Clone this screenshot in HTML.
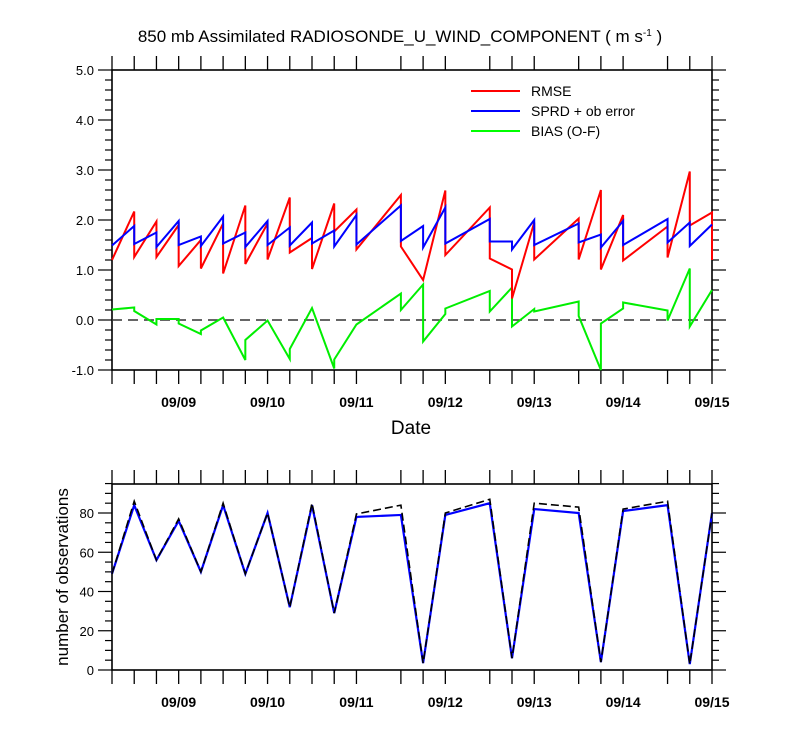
<!DOCTYPE html>
<html><head><meta charset="utf-8"><style>
html,body{margin:0;padding:0;background:#fff;}
svg{display:block;font-family:"Liberation Sans",sans-serif;}
</style></head><body>
<svg id="c" width="800" height="750" xmlns="http://www.w3.org/2000/svg">
<text x="400" y="42" text-anchor="middle" font-size="17">850 mb Assimilated RADIOSONDE_U_WIND_COMPONENT ( m s<tspan dy="-6" font-size="10">-1</tspan><tspan dy="6"> )</tspan></text>
<g id="topPanel"></g>
<g id="botPanel"></g>
<text x="411" y="434" text-anchor="middle" font-size="19">Date</text>
<text transform="translate(68,577) rotate(-90)" text-anchor="middle" font-size="17">number of observations</text>
<g>
<line x1="471" y1="91" x2="520" y2="91" stroke="#ff0000" stroke-width="2"/>
<text x="531" y="96" font-size="14">RMSE</text>
<line x1="471" y1="111" x2="520" y2="111" stroke="#0000ff" stroke-width="2"/>
<text x="531" y="116" font-size="14">SPRD + ob error</text>
<line x1="471" y1="131" x2="520" y2="131" stroke="#00ff00" stroke-width="2"/>
<text x="531" y="136" font-size="14">BIAS (O-F)</text>
</g>
</svg>
<script>
// time index in 6-hour steps from 09/08 06Z
const times = [0,1,2,3,4,5,6,7,8,9,10,11,13,14,15,17,18,19,21,22,23,25,26,27];
const rmsePrior = [1.2,2.17,1.97,1.9,1.6,1.93,2.29,1.93,2.45,1.64,2.33,2.21,2.5,0.8,2.59,2.25,1.01,1.95,2.03,2.6,2.1,1.87,2.97,2.15];
const rmsePost  = [1.2,1.26,1.26,1.08,1.03,0.93,1.12,1.21,1.35,1.02,1.77,1.41,1.47,0.8,1.3,1.23,0.43,1.21,1.21,1.01,1.19,1.25,1.89,1.2];
const sprdPrior = [1.49,1.88,1.75,1.98,1.67,2.07,1.75,1.98,1.85,1.95,1.79,2.1,2.29,1.88,2.25,2.02,1.57,2.0,1.93,1.71,1.98,2.02,1.95,1.91];
const sprdPost  = [1.49,1.52,1.46,1.5,1.48,1.53,1.46,1.5,1.49,1.53,1.47,1.51,1.58,1.45,1.53,1.57,1.41,1.5,1.55,1.45,1.5,1.55,1.48,1.91];
const biasPrior = [0.21,0.25,-0.09,0.02,-0.28,0.05,-0.8,-0.01,-0.78,0.24,-0.97,-0.09,0.53,0.71,0.12,0.58,0.65,0.22,0.37,-1.0,0.23,0.19,1.03,0.6];
const biasPost  = [0.21,0.18,0.02,-0.07,-0.21,0.05,-0.4,-0.01,-0.58,0.24,-0.79,-0.09,0.2,-0.43,0.23,0.17,-0.13,0.17,0.08,-0.07,0.35,-0.01,-0.13,0.6];
const obsUsed  = [49,84,56,76,50,84,49,80,32,84,29,78,79,3.5,79,85,6,82,80,4,81,84,3,80];
const obsTotal = [49,86,56,77,50,85,49,80,32,85,29,79.5,84,3.5,80,87,6,85,83,4,82,86,3,80];
const dateLabels = ["09/09","09/10","09/11","09/12","09/13","09/14","09/15"];
const dateTimes = [3,7,11,15,19,23,27];
const topTicks = [5,4,3,2,1,0,-1];
const botTicks = [0,20,40,60,80];

const NS="http://www.w3.org/2000/svg";
const X0=112,X1=712,TMAX=27;
const xS=t=>X0+(X1-X0)*t/TMAX;
const yT=v=>320-50*v;
const yB=v=>670-1.9625*v;
function mk(p,tag,at){const e=document.createElementNS(NS,tag);for(const k in at)e.setAttribute(k,at[k]);p.appendChild(e);return e;}
const topG=document.getElementById('topPanel'),botG=document.getElementById('botPanel');

function frame(g,yt,yb,ys,vmin,vmax,minorStep,majors,fmt,name){
  const r=mk(g,'rect',{x:X0,y:yt,width:X1-X0,height:yb-yt,fill:'none',stroke:'#000','stroke-width':1.6});
  
  
  for(const t of times){
    const a=mk(g,'line',{x1:xS(t),x2:xS(t),y1:yb,y2:yb+14,stroke:'#000','stroke-width':1.3});
    
    
    const b=mk(g,'line',{x1:xS(t),x2:xS(t),y1:yt,y2:yt-14,stroke:'#000','stroke-width':1.3});
    
    
  }
  const n=Math.round((vmax-vmin)/minorStep);
  for(let i=0;i<=n;i++){
    const v=vmin+i*minorStep;
    const yy=ys(v);const maj=majors.some(m=>Math.abs(m-v)<1e-6);const L=maj?14:7;
    const a=mk(g,'line',{x1:X0-L,x2:X0,y1:yy,y2:yy,stroke:'#000','stroke-width':1.2});
    
    
    const b=mk(g,'line',{x1:X1,x2:X1+L,y1:yy,y2:yy,stroke:'#000','stroke-width':1.2});
    
    
  }
  for(const m of majors){
    const tx=mk(g,'text',{x:X0-18,y:ys(m)+5,'text-anchor':'end','font-size':13});
    tx.textContent=fmt(m);
    
    
  }
  dateLabels.forEach((d,i)=>{
    const tx=mk(g,'text',{x:xS(dateTimes[i]),y:yb+37,'text-anchor':'middle','font-size':14,'font-weight':'bold'});
    tx.textContent=d;
    
    
  });
}
frame(topG,70,370,yT,-1,5,0.2,topTicks,v=>v.toFixed(1),'top');
frame(botG,484,670,yB,0,95,5,botTicks,v=>String(v),'bottom');

const z=mk(topG,'line',{x1:X0,x2:X1,y1:yT(0),y2:yT(0),stroke:'#333','stroke-width':1.5,'stroke-dasharray':'10 6'});



function saw(prior,post,color,name){
  let pts=[[xS(times[0]),yT(post[0])]];
  for(let i=1;i<times.length;i++){pts.push([xS(times[i]),yT(prior[i])]);pts.push([xS(times[i]),yT(post[i])]);}
  const p=mk(topG,'polyline',{points:pts.map(q=>q.join(',')).join(' '),fill:'none',stroke:color,'stroke-width':2});
  
  
}
saw(biasPrior,biasPost,'#00ee00','bias-line');
saw(rmsePrior,rmsePost,'#ff0000','rmse-line');
saw(sprdPrior,sprdPost,'#0000ff','sprd-line');

const pu=mk(botG,'polyline',{points:times.map((t,i)=>xS(t)+','+yB(obsUsed[i])).join(' '),fill:'none',stroke:'#0000ff','stroke-width':2.2});


const pt=mk(botG,'polyline',{points:times.map((t,i)=>xS(t)+','+yB(obsTotal[i])).join(' '),fill:'none',stroke:'#000','stroke-width':1.6,'stroke-dasharray':'8 4'});


</script>
</body></html>
